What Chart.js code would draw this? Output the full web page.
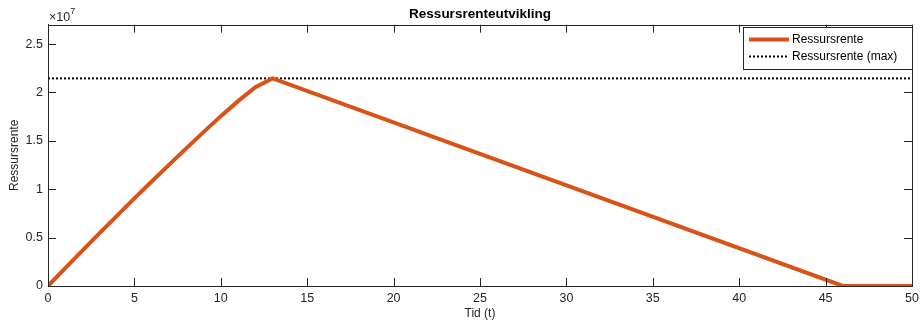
<!DOCTYPE html>
<html>
<head>
<meta charset="utf-8">
<script src="https://cdn.jsdelivr.net/npm/chart.js@4/dist/chart.umd.min.js"></script>
<style>
  html, body { margin: 0; padding: 0; background: #fff; }
  #wrap { width: 924px; height: 326px; }
</style>
</head>
<body>
<div id="wrap"><canvas id="graf"></canvas></div>
<script>
// data lest av figuren
const tid = [0, 1, 2, 3, 4, 5, 6, 7, 8, 9, 10, 11, 12, 13, 46, 50];
const rente = [0, 0.185e7, 0.368e7, 0.549e7, 0.728e7, 0.905e7, 1.08e7, 1.252e7, 1.422e7, 1.59e7, 1.755e7, 1.91e7, 2.055e7, 2.145e7, 0, 0];
const xTicks = [0, 5, 10, 15, 20, 25, 30, 35, 40, 45, 50];
const yTicks = [0, 0.5e7, 1e7, 1.5e7, 2e7, 2.5e7];
const renteMax = Math.max(...rente);
const tittel = "Ressursrenteutvikling";

const FONT = "'Liberation Sans', Arial, Helvetica, sans-serif";
const AX = "#262626";

// tittel over plottet, innoverpekende ticks, boks, x10^7 og legende
const matlabAxes = {
  id: "matlabAxes",
  afterDraw(chart) {
    const { ctx, chartArea: a, scales } = chart;
    ctx.save();
    ctx.strokeStyle = AX;
    ctx.lineWidth = 1;
    ctx.beginPath();
    xTicks.forEach(v => {
      const x = Math.round(scales.x.getPixelForValue(v)) + 0.5;
      ctx.moveTo(x, a.bottom); ctx.lineTo(x, a.bottom - 8);
      ctx.moveTo(x, a.top); ctx.lineTo(x, a.top + 8);
    });
    yTicks.forEach(v => {
      const y = Math.round(scales.y.getPixelForValue(v)) + 0.5;
      ctx.moveTo(a.left, y); ctx.lineTo(a.left + 8, y);
      ctx.moveTo(a.right, y); ctx.lineTo(a.right - 8, y);
    });
    ctx.stroke();
    ctx.strokeRect(Math.round(a.left) + 0.5, Math.round(a.top) + 0.5, Math.round(a.right - a.left), Math.round(a.bottom - a.top));

    // tittel
    ctx.fillStyle = "#000";
    ctx.font = "bold 13.5px " + FONT;
    ctx.textAlign = "center";
    ctx.textBaseline = "middle";
    ctx.fillText(tittel, (a.left + a.right) / 2, 14);

    // eksponent
    ctx.fillStyle = AX;
    ctx.textBaseline = "alphabetic";
    ctx.textAlign = "left";
    ctx.font = "12.5px " + FONT;
    ctx.fillText("\u00d710", a.left + 1, 21);
    const w = ctx.measureText("\u00d710").width;
    ctx.font = "9px " + FONT;
    ctx.fillText("7", a.left + 1 + w, 14);

    // legende
    const lx = 743, ly = 27, lw = 169, lh = 42;
    ctx.fillStyle = "#fff";
    ctx.fillRect(lx, ly, lw, lh);
    ctx.strokeStyle = AX;
    ctx.lineWidth = 1;
    ctx.strokeRect(lx + 0.5, ly + 0.5, lw, lh);
    chart.data.datasets.forEach((ds, i) => {
      const y = ly + 12.5 + i * 17;
      ctx.beginPath();
      ctx.strokeStyle = ds.borderColor;
      ctx.lineWidth = ds.borderWidth;
      ctx.setLineDash(ds.borderDash || []);
      ctx.moveTo(749, y); ctx.lineTo(789, y);
      ctx.stroke();
      ctx.setLineDash([]);
      ctx.fillStyle = "#000";
      ctx.font = "12px " + FONT;
      ctx.textBaseline = "middle";
      ctx.fillText(ds.label, 792, y);
    });
    ctx.restore();
  }
};

new Chart(document.getElementById("graf"), {
  type: "line",
  data: {
    datasets: [
      {
        label: "Ressursrente",
        data: tid.map((t, i) => ({ x: t, y: rente[i] })),
        borderColor: "#D95319",
        borderWidth: 4,
        pointRadius: 0,
        fill: false
      },
      {
        label: "Ressursrente (max)",
        data: [{ x: 0, y: renteMax }, { x: 50, y: renteMax }],
        borderColor: "#000",
        borderWidth: 2,
        borderDash: [2, 2],
        pointRadius: 0,
        fill: false
      }
    ]
  },
  options: {
    responsive: true,
    maintainAspectRatio: false,
    animation: false,
    layout: { padding: { top: 24.7, right: 12, bottom: 0, left: 0 } },
    plugins: {
      legend: { display: false },
      tooltip: { enabled: false },
      title: { display: false }
    },
    scales: {
      x: {
        type: "linear",
        min: 0,
        max: 50,
        afterBuildTicks: s => { s.ticks = xTicks.map(v => ({ value: v })); },
        afterFit: s => { s.height = 40; },
        grid: { display: false, drawTicks: false },
        border: { color: AX },
        ticks: { color: AX, padding: 5, maxRotation: 0, font: { family: FONT, size: 12.5 } },
        title: { display: true, text: "Tid (t)", color: AX, padding: { top: 2, bottom: 5 }, font: { family: FONT, size: 12 } }
      },
      y: {
        min: 0,
        max: 2.7e7,
        afterBuildTicks: s => { s.ticks = yTicks.map(v => ({ value: v })); },
        afterFit: s => { s.width = 48; },
        grid: { display: false, drawTicks: false },
        border: { color: AX },
        ticks: { color: AX, padding: 5, font: { family: FONT, size: 12.5 }, callback: v => String(v / 1e7) },
        title: { display: true, text: "Ressursrente", color: AX, padding: { top: 7, bottom: 0 }, font: { family: FONT, size: 12 } }
      }
    }
  },
  plugins: [matlabAxes]
});
</script>
</body>
</html>
